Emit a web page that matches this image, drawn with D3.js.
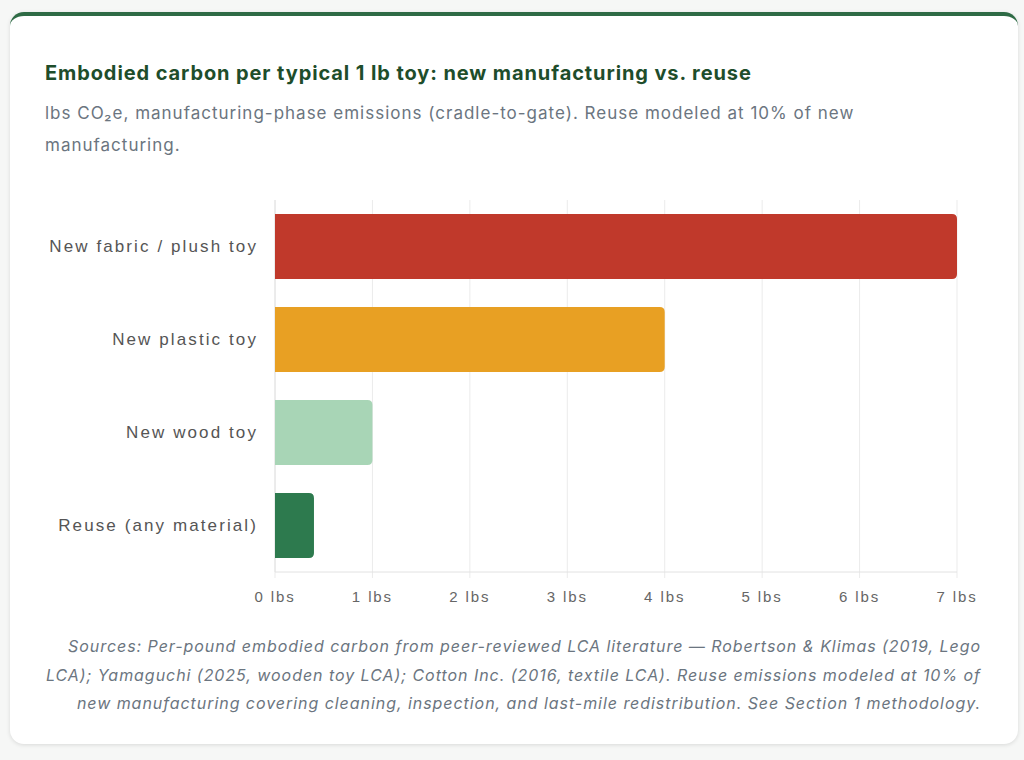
<!DOCTYPE html>
<html>
<head>
<meta charset="utf-8">
<script src="https://cdn.jsdelivr.net/npm/d3@7"></script>
<style>
  html, body { margin: 0; padding: 0; background: #f6f7f6; }
  body { width: 1024px; height: 760px; position: relative; font-family: "Liberation Sans", "Helvetica Neue", Arial, sans-serif; }
  .card {
    position: absolute; left: 10px; top: 12px; width: 1008px; height: 732px;
    background: #fff; border-radius: 14px; border-top: 4px solid #2e6b45;
    box-sizing: border-box;
    box-shadow: 0 1px 4px rgba(0,0,0,0.12);
  }
  .title {
    position: absolute; left: 35px; top: 45px; margin: 0;
    font-family: "Inter", "Liberation Sans", sans-serif;
    font-size: 20px; line-height: 24px; font-weight: 700; color: #1e4d2b; letter-spacing: 0.9px;
  }
  .subtitle {
    position: absolute; left: 35px; top: 81px; width: 900px; margin: 0;
    font-family: "Inter", "Liberation Sans", sans-serif;
    font-size: 17px; line-height: 32px; color: #6b7580; letter-spacing: 1px;
  }
  .sources {
    position: absolute; left: 35px; top: 616px; width: 936px; margin: 0;
    text-align: right; font-style: italic;
    font-family: "Inter", "Liberation Sans", sans-serif;
    font-size: 16px; line-height: 28.5px; color: #6b7580; letter-spacing: 0.95px;
  }
  svg { position: absolute; left: 0; top: 0; }
</style>
</head>
<body>
<div class="card">
  <p class="title">Embodied carbon per typical 1 lb toy: new manufacturing vs. reuse</p>
  <p class="subtitle">lbs CO₂e, manufacturing-phase emissions (cradle-to-gate). Reuse modeled at 10% of new manufacturing.</p>
  <p class="sources">Sources: Per-pound embodied carbon from peer-reviewed LCA literature — Robertson &amp; Klimas (2019, Lego LCA); Yamaguchi (2025, wooden toy LCA); Cotton Inc. (2016, textile LCA). Reuse emissions modeled at 10% of new manufacturing covering cleaning, inspection, and last-mile redistribution. See Section 1 methodology.</p>
</div>
<div id="chart"></div>
<script>
const categories = ["New fabric / plush toy", "New plastic toy", "New wood toy", "Reuse (any material)"];
const values = [7.0, 4.0, 1.0, 0.4];
const colors = ["#c0392b", "#e8a023", "#a8d5b6", "#2d7a4e"];
const xTicks = [0, 1, 2, 3, 4, 5, 6, 7];

const margin = { top: 200, left: 275, right: 67, bottom: 188 };
const W = 1024, H = 760;
const width = W - margin.left - margin.right;
const height = H - margin.top - margin.bottom;

const svg = d3.select("#chart").append("svg")
  .attr("width", W).attr("height", H);

const g = svg.append("g").attr("transform", `translate(${margin.left},${margin.top})`);

const x = d3.scaleLinear().domain([0, 7]).range([0, width]);
const y = d3.scaleBand().domain(categories).range([0, height])
  .paddingInner(0.3).paddingOuter(0.15);

// grid
g.append("g").selectAll("line").data(xTicks).join("line")
  .attr("x1", d => x(d)).attr("x2", d => x(d))
  .attr("y1", 0).attr("y2", height + 6)
  .attr("stroke", "#ebebeb").attr("stroke-width", 1);

// axis lines
g.append("line").attr("x1", 0).attr("x2", 0).attr("y1", 0).attr("y2", height)
  .attr("stroke", "#e2e2e2");
g.append("line").attr("x1", 0).attr("x2", width).attr("y1", height).attr("y2", height)
  .attr("stroke", "#e2e2e2");

// bars: rounded on the right end only
const r = 5;
function barPath(d, i) {
  const x0 = x(0), x1 = x(d), y0 = y(categories[i]), h = y.bandwidth();
  const rr = Math.min(r, (x1 - x0) / 2);
  return `M${x0},${y0}H${x1 - rr}Q${x1},${y0} ${x1},${y0 + rr}V${y0 + h - rr}Q${x1},${y0 + h} ${x1 - rr},${y0 + h}H${x0}Z`;
}
g.append("g").selectAll("path").data(values).join("path")
  .attr("d", barPath)
  .attr("fill", (d, i) => colors[i]);

// x tick labels
g.append("g").selectAll("text").data(xTicks).join("text")
  .attr("x", d => x(d)).attr("y", height + 30)
  .attr("text-anchor", "middle")
  .attr("font-size", "15px").attr("letter-spacing", "1.9px")
  .attr("fill", "#666")
  .text(d => `${d} lbs`);

// category labels
g.append("g").selectAll("text").data(categories).join("text")
  .attr("x", -17).attr("y", d => y(d) + y.bandwidth() / 2)
  .attr("dy", "0.35em")
  .attr("text-anchor", "end")
  .attr("font-size", "17px").attr("letter-spacing", "2.1px")
  .attr("fill", "#555")
  .text(d => d);
</script>
</body>
</html>
